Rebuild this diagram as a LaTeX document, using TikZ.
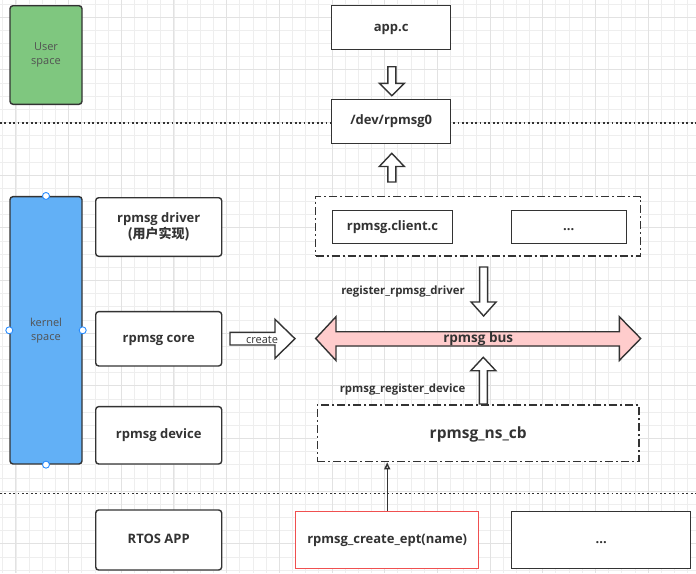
\documentclass[tikz,border=0pt]{standalone}
\usepackage{fontspec}
\setmainfont{Open Sans}
\newfontfamily\cjk{Noto Sans CJK SC}
\usetikzlibrary{arrows.meta}
\definecolor{ink}{HTML}{333333}
\definecolor{usergreen}{RGB}{127,199,127}
\definecolor{kernblue}{RGB}{98,176,246}
\definecolor{buspink}{HTML}{FFCCCC}
\definecolor{eptred}{RGB}{240,80,80}
\definecolor{handleblue}{RGB}{40,140,255}
\definecolor{gridminor}{HTML}{EEEEEE}
\definecolor{gridmajor}{HTML}{E2E2E2}
\newcommand\vArrowShape[4]{% cx, tail, head base, tip
  \draw[hollow] ({#1-4},#2) -- ({#1+4},#2) -- ({#1+4},#3) -- ({#1+12.5},#3) -- (#1,#4) -- ({#1-12.5},#3) -- ({#1-4},#3) -- cycle;}
\begin{document}
\begin{tikzpicture}[x=1pt,y=-1pt,
  box/.style={draw=ink, line width=1.4pt, fill=white, text=ink, font=\bfseries\fontsize{13}{16}\selectfont, align=center, inner sep=0pt},
  one/.style={text height=9.5pt, text depth=2.5pt},
  rbox/.style={box, rounded corners=3pt},
  dashdot/.style={box, dash pattern=on 8pt off 3pt on 2pt off 3pt},
  side/.style={draw=ink, line width=1.4pt, rounded corners=3pt, text=ink!85, font=\fontsize{11}{14}\selectfont, align=center, inner sep=0pt},
  sep/.style={draw=ink, line width=1.6pt, dash pattern=on 1.8pt off 2.6pt},
  hollow/.style={draw=ink, line width=1.4pt, fill=white, line join=miter},
  lbl/.style={text=ink, font=\bfseries\fontsize{11.4}{13}\selectfont, inner sep=0pt, anchor=base},
  handle/.style={circle, draw=handleblue, fill=white, line width=0.9pt, minimum size=7pt, inner sep=0pt}
]
\useasboundingbox (0,0) rectangle (696,573);
\fill[white] (0,0) rectangle (696,573);
% grid
\foreach \i in {0,...,52} {
  \draw[gridminor, line width=0.6pt] ({2.65+13.17*\i},0) -- ({2.65+13.17*\i},573);
}
\foreach \i in {0,...,43} {
  \draw[gridminor, line width=0.6pt] (0,{3.8+13.17*\i}) -- (696,{3.8+13.17*\i});
}
\foreach \i in {0,...,13} {
  \draw[gridmajor, line width=0.7pt] ({15.8+52.68*\i},0) -- ({15.8+52.68*\i},573);
}
\foreach \i in {0,...,10} {
  \draw[gridmajor, line width=0.7pt] (0,{17+52.68*\i}) -- (696,{17+52.68*\i});
}
% separators
\draw[sep] (0,122.7) -- (696,122.7);
\draw[sep] (0,493.3) -- (696,493.3);

% left side
\node[side, fill=usergreen, minimum width=72pt, minimum height=98.6pt] (user) at (46,55) {User\\space};
\node[side, fill=kernblue, minimum width=72pt, minimum height=267.3pt] (kernel) at (46,330.3) {kernel\\space};
\node[handle] (h1) at (kernel.north) {};
\node[handle] (h2) at (kernel.south) {};
\node[handle] (h3) at (kernel.west) {};
\node[handle] (h4) at (kernel.east) {};

\node[rbox, minimum width=126pt, minimum height=58.6pt] (driver) at (158.7,227) {rpmsg driver\\{\cjk (用户实现)}};
\node[rbox, one, minimum width=126pt, minimum height=54.3pt] (core) at (158.7,338.8) {rpmsg core};
\node[rbox, one, minimum width=126pt, minimum height=57.3pt] (device) at (158.7,435.3) {rpmsg device};
\node[rbox, one, minimum width=126pt, minimum height=60pt] (rtos) at (158.7,540) {RTOS APP};

% top column
\node[box, one, minimum width=119pt, minimum height=43.6pt] (appc) at (391.2,27.5) {app.c};
\node[box, one, minimum width=119pt, minimum height=44pt] (dev) at (391.2,121.3) {/dev/rpmsg0};
\vArrowShape{391.8}{66.7}{83.3}{95.7}
\vArrowShape{391.8}{182}{166.5}{153.3}

\node[dashdot, minimum width=325pt, minimum height=59.3pt] (clients) at (478.2,226.3) {};
\node[box, one, minimum width=120.4pt, minimum height=32.6pt] (client) at (392.5,227) {rpmsg.client.c};
\node[box, one, minimum width=115pt, minimum height=32.6pt] (dots1) at (568.8,227) {...};

\vArrowShape{483.6}{267}{302}{316}
\node[lbl] (regdrv) at (403,294.3) {register\_rpmsg\_driver};

% bus
\draw[hollow, fill=buspink] (315.7,338.5) -- (336,316.7) -- (336,331.7) -- (619.3,331.7) -- (619.3,316.7) -- (640.7,338.5) -- (619.3,360.5) -- (619.3,346) -- (336,346) -- (336,360.5) -- cycle;
\node[text=ink, font=\bfseries\fontsize{13.5}{15}\selectfont, inner sep=0pt, anchor=base] (bus) at (478.2,342.6) {rpmsg bus};

% create arrow
\draw[hollow] (230,332.3) -- (275,332.3) -- (275,319.3) -- (295,338.7) -- (275,358.3) -- (275,345) -- (230,345) -- cycle;
\node[text=ink, font=\fontsize{11}{12}\selectfont, inner sep=0pt, anchor=base] (create) at (262,343) {create};

\vArrowShape{483.3}{404}{370.7}{357.3}
\node[lbl] (regdev) at (402.5,392.2) {rpmsg\_register\_device};

\node[dashdot, font=\bfseries\fontsize{15.5}{18}\selectfont, text height=11pt, text depth=1.5pt, minimum width=321.7pt, minimum height=56.7pt] (nscb) at (478.2,433.3) {rpmsg\_ns\_cb};

% bottom
\node[box, one, draw=eptred, minimum width=183pt, minimum height=56.6pt] (ept) at (387.2,540) {rpmsg\_create\_ept(name)};
\node[box, one, minimum width=179pt, minimum height=56.6pt] (dots2) at (601.2,540) {...};
\draw[draw=ink, line width=1.4pt, -{Triangle[open, length=7pt, width=6pt]}] (ept.north) -- (ept.north |- nscb.south);
\end{tikzpicture}
\end{document}
